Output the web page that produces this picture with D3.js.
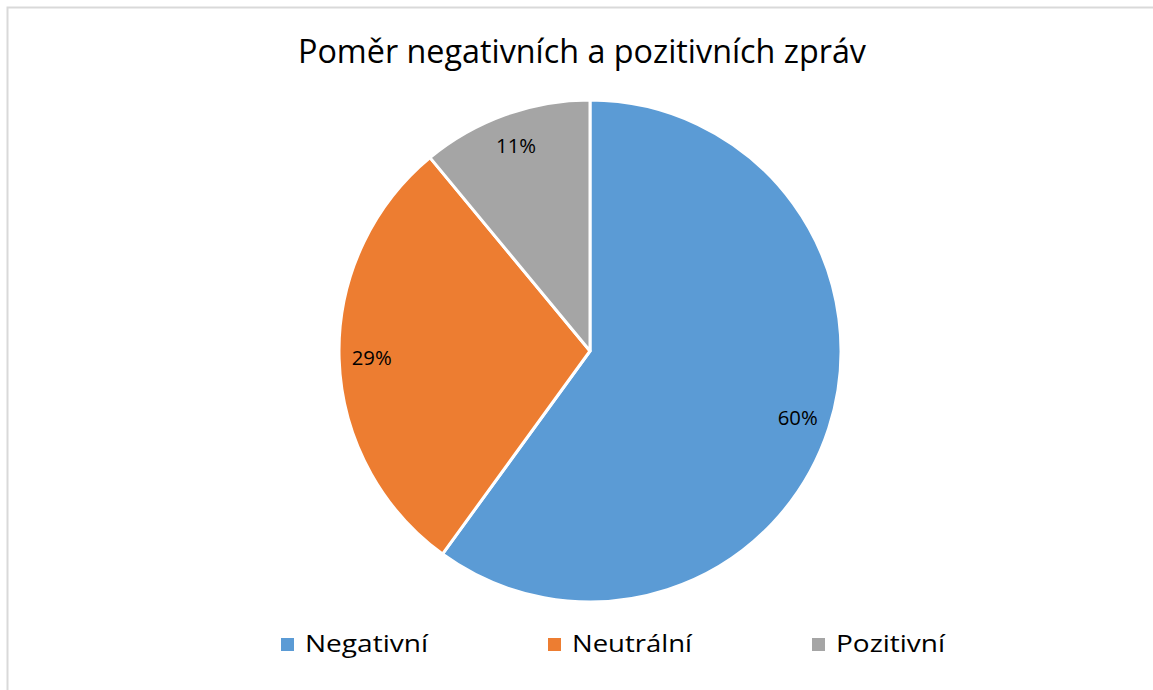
<!DOCTYPE html>
<html>
<head>
<meta charset="utf-8">
<script src="https://cdn.jsdelivr.net/npm/d3@7"></script>
<style>
    body { margin: 0; background: #fff; }
    svg { display: block; font-family: "Open Sans", sans-serif; }
</style>
</head>
<body>
<script>
    // chart data
    var categories = ["Negativní", "Neutrální", "Pozitivní"],
        values = [60, 29, 11],
        colors = ["#5B9BD5", "#ED7D31", "#A5A5A5"],
        title = "Poměr negativních a pozitivních zpráv";

    var width = 1153, height = 690,
        cx = 590, cy = 351, radius = 251;

    var svg = d3.select("body").append("svg")
        .attr("width", width)
        .attr("height", height);

    // chart area border (only top and left edge visible)
    svg.append("path")
        .attr("d", "M7.5," + height + "V7.5H" + width)
        .attr("fill", "none")
        .attr("stroke", "#d9d9d9")
        .attr("stroke-width", 2);

    svg.append("text")
        .attr("x", 582)
        .attr("y", 63)
        .attr("text-anchor", "middle")
        .attr("font-size", 32)
        .attr("textLength", 568)
        .attr("lengthAdjust", "spacingAndGlyphs")
        .attr("fill", "#000")
        .text(title);

    var pie = d3.pie().sort(null).value(function (d) { return d; });
    var arc = d3.arc().innerRadius(0).outerRadius(radius);
    var labelArc = d3.arc().innerRadius(radius * 0.87).outerRadius(radius * 0.87);

    var slices = svg.append("g")
        .attr("transform", "translate(" + cx + "," + cy + ")")
        .selectAll("g")
        .data(pie(values))
        .join("g");

    slices.append("path")
        .attr("d", arc)
        .attr("fill", function (d, i) { return colors[i]; })
        .attr("stroke", "#fff")
        .attr("stroke-width", 3)
        .attr("stroke-linejoin", "round");

    slices.append("text")
        .attr("transform", function (d) { return "translate(" + labelArc.centroid(d) + ")"; })
        .attr("dy", "0.35em")
        .attr("text-anchor", "middle")
        .attr("font-size", 20)
        .attr("textLength", 40)
        .attr("lengthAdjust", "spacingAndGlyphs")
        .attr("fill", "#000")
        .text(function (d) { return d.value + "%"; });

    // legend
    var legendX = [281, 548, 812],
        legendW = [123, 120, 109];

    var legend = svg.append("g")
        .selectAll("g")
        .data(categories)
        .join("g")
        .attr("transform", function (d, i) { return "translate(" + legendX[i] + ",0)"; });

    legend.append("rect")
        .attr("x", 0)
        .attr("y", 638)
        .attr("width", 13)
        .attr("height", 13)
        .attr("fill", function (d, i) { return colors[i]; });

    legend.append("text")
        .attr("x", 24)
        .attr("y", 652)
        .attr("font-size", 24)
        .attr("textLength", function (d, i) { return legendW[i]; })
        .attr("lengthAdjust", "spacingAndGlyphs")
        .attr("fill", "#000")
        .text(function (d) { return d; });
</script>
</body>
</html>
